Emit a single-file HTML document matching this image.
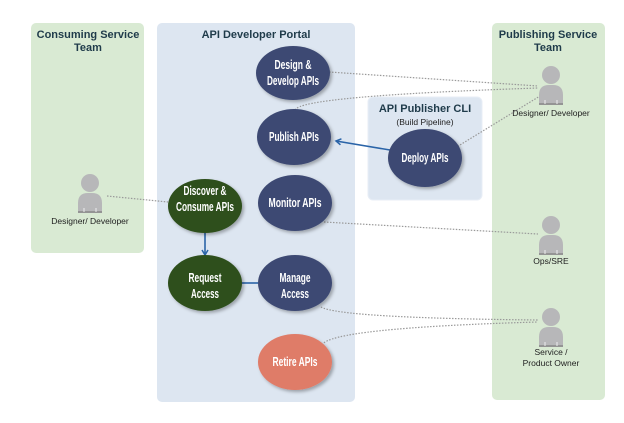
<!DOCTYPE html>
<html><head><meta charset="utf-8"><style>
html,body{margin:0;padding:0;background:#fff;}
svg{display:block;}
.t{font-family:"Liberation Sans",sans-serif;font-weight:bold;fill:#fff;font-size:13px;text-anchor:middle;}
.h{font-family:"Liberation Sans",sans-serif;font-weight:bold;font-size:11px;fill:#1f3b4a;text-anchor:middle;}
.l{font-family:"Liberation Sans",sans-serif;font-size:8.5px;fill:#222;text-anchor:middle;}
.d{stroke:#999;stroke-width:1.2;stroke-dasharray:1.5 1.5;fill:none;}
</style></head><body>
<svg width="624" height="423" viewBox="0 0 624 423" xmlns="http://www.w3.org/2000/svg">
<defs>
<marker id="ar" markerWidth="8" markerHeight="8" refX="6" refY="4" orient="auto" markerUnits="userSpaceOnUse"><path d="M1,1 L6,4 L1,7" fill="none" stroke="#2a64a8" stroke-width="1.5"/></marker>
<filter id="sh" x="-20%" y="-20%" width="150%" height="150%"><feDropShadow dx="2" dy="2" stdDeviation="1.5" flood-color="#000" flood-opacity="0.3"/></filter>
<g id="p"><circle cx="0" cy="9" r="9" fill="#b7b7b9"/><path d="M-12,39 L-12,29 Q-12,19 -2,19 L2,19 Q12,19 12,29 L12,39 Z" fill="#b7b7b9"/><line x1="-12" y1="38" x2="12" y2="38" stroke="#888" stroke-width="1.5"/><line x1="-6" y1="34" x2="-6" y2="38" stroke="#eee"/><line x1="6" y1="34" x2="6" y2="38" stroke="#eee"/></g>
</defs>
<rect x="31" y="23" width="113" height="230" rx="5" fill="#d9ead3"/>
<rect x="492" y="23" width="113" height="377" rx="5" fill="#d9ead3"/>
<rect x="157" y="23" width="198" height="379" rx="5" fill="#dde6f1"/>
<rect x="368" y="97" width="114" height="103" rx="5" fill="#dde6f1" stroke="#e8eef6"/>
<text class="h" x="88" y="38">Consuming Service</text><text class="h" x="88" y="51">Team</text>
<text class="h" x="548" y="38">Publishing Service</text><text class="h" x="548" y="51">Team</text>
<text class="h" x="256" y="38">API Developer Portal</text>
<text class="h" x="425" y="112">API Publisher CLI</text>
<text class="l" x="425" y="125">(Build Pipeline)</text>
<path class="d" d="M329,72 L538,86"/>
<path class="d" d="M295,110 Q300,96 538,88"/>
<path class="d" d="M455,148 L540,96"/>
<path class="d" d="M324,222 L538,234"/>
<path class="d" d="M321,307 Q340,318 538,320"/>
<path class="d" d="M322,345 Q330,328 538,322"/>
<path class="d" d="M107,196 L168,202"/>
<line x1="390" y1="150" x2="336" y2="141" stroke="#2a64a8" stroke-width="1.6" marker-end="url(#ar)"/>
<line x1="205" y1="233" x2="205" y2="255" stroke="#2a64a8" stroke-width="1.6" marker-end="url(#ar)"/>
<line x1="242" y1="283" x2="258" y2="283" stroke="#2a64a8" stroke-width="1.6"/>
<g filter="url(#sh)">
<ellipse cx="293" cy="73" rx="37" ry="27" fill="#3d4a73"/>
<ellipse cx="294" cy="137" rx="37" ry="28" fill="#3d4a73"/>
<ellipse cx="425" cy="158" rx="37" ry="29" fill="#3d4a73"/>
<ellipse cx="295" cy="203" rx="37" ry="28" fill="#3d4a73"/>
<ellipse cx="205" cy="206" rx="37" ry="27" fill="#2d4f1c"/>
<ellipse cx="205" cy="283" rx="37" ry="28" fill="#2d4f1c"/>
<ellipse cx="295" cy="283" rx="37" ry="28" fill="#3d4a73"/>
<ellipse cx="295" cy="362" rx="37" ry="28" fill="#df7b68"/>
</g>
<text class="t" x="293" y="69" textLength="37" lengthAdjust="spacingAndGlyphs">Design &amp;</text><text class="t" x="293" y="85" textLength="52" lengthAdjust="spacingAndGlyphs">Develop APIs</text>
<text class="t" x="294" y="141" textLength="50" lengthAdjust="spacingAndGlyphs">Publish APIs</text>
<text class="t" x="425" y="162" textLength="47" lengthAdjust="spacingAndGlyphs">Deploy APIs</text>
<text class="t" x="295" y="207" textLength="53" lengthAdjust="spacingAndGlyphs">Monitor APIs</text>
<text class="t" x="205" y="195" textLength="43" lengthAdjust="spacingAndGlyphs">Discover &amp;</text><text class="t" x="205" y="211" textLength="58" lengthAdjust="spacingAndGlyphs">Consume APIs</text>
<text class="t" x="205" y="282" textLength="33" lengthAdjust="spacingAndGlyphs">Request</text><text class="t" x="205" y="298" textLength="28" lengthAdjust="spacingAndGlyphs">Access</text>
<text class="t" x="295" y="282" textLength="31" lengthAdjust="spacingAndGlyphs">Manage</text><text class="t" x="295" y="298" textLength="28" lengthAdjust="spacingAndGlyphs">Access</text>
<text class="t" x="295" y="366" textLength="45" lengthAdjust="spacingAndGlyphs">Retire APIs</text>
<use href="#p" x="90" y="174"/><text class="l" x="90" y="224">Designer/ Developer</text>
<use href="#p" x="551" y="66"/><text class="l" x="551" y="116">Designer/ Developer</text>
<use href="#p" x="551" y="216"/><text class="l" x="551" y="264">Ops/SRE</text>
<use href="#p" x="551" y="308"/><text class="l" x="551" y="355">Service /</text><text class="l" x="551" y="366">Product Owner</text>
</svg>
</body></html>
